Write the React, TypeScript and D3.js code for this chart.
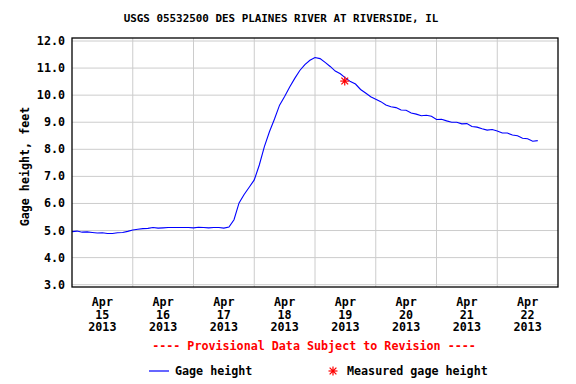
import React from "react";
import * as d3 from "d3";

const TITLE = "USGS 05532500 DES PLAINES RIVER AT RIVERSIDE, IL";
const Y_LABEL = "Gage height, feet";
const PROVISIONAL = "---- Provisional Data Subject to Revision ----";
const START = new Date(2013, 3, 15, 0, 0);
const END = new Date(2013, 3, 23, 0, 0);
const STEP_HOURS = 2;
// Gage height readings every 2 hours from Apr 15 2013 00:00
const gageHeight = [
  4.96, 4.97, 4.95, 4.94, 4.93, 4.92, 4.91, 4.89, 4.90, 4.91, 4.93, 4.97,
  5.02, 5.04, 5.07, 5.09, 5.10, 5.09, 5.11, 5.10, 5.11, 5.12, 5.10, 5.11,
  5.11, 5.12, 5.10, 5.11, 5.10, 5.11, 5.10, 5.13, 5.40, 6.02, 6.33, 6.60,
  6.87, 7.42, 8.10, 8.65, 9.12, 9.63, 9.95, 10.30, 10.62, 10.91, 11.12, 11.30,
  11.37, 11.34, 11.22, 11.05, 10.91, 10.78, 10.62, 10.52, 10.41, 10.22, 10.06, 9.95,
  9.84, 9.74, 9.66, 9.57, 9.52, 9.46, 9.41, 9.36, 9.29, 9.26, 9.24, 9.21,
  9.12, 9.09, 9.05, 9.03, 8.98, 8.95, 8.92, 8.86, 8.81, 8.76, 8.73, 8.71,
  8.67, 8.62, 8.58, 8.54, 8.49, 8.43, 8.37, 8.33, 8.31,
];
const jitter = [
  0, 0.01, -0.01, 0.01, 0, -0.01, 0.01, 0, -0.01, 0.01, 0, 0,
  0, 0.01, 0, -0.01, 0.01, 0, -0.01, 0.01, 0, -0.01, 0.01, 0,
  -0.01, 0, 0.01, -0.01, 0.01, 0, -0.01, 0, 0, 0, 0, 0,
  0, 0, 0, 0, 0, 0, 0, 0, 0, 0, 0.01, -0.01,
  0.02, 0.01, -0.01, 0.01, -0.02, 0.01, 0.02, -0.02, 0, -0.01, 0.02, -0.01,
  0.01, 0.02, -0.02, 0, 0.02, -0.01, 0.03, -0.02, 0.01, -0.02, 0.02, 0.01,
  -0.02, 0.02, 0, -0.03, 0.02, -0.01, 0.03, -0.02, 0.01, 0, -0.02, 0.02,
  0.01, -0.02, 0.02, -0.01, 0.01, -0.02, 0.02, -0.03, 0.01,
];
const measuredTime = [new Date(2013, 3, 19, 11, 45)];
const measuredValue = [10.52];
const yTicks = [3, 4, 5, 6, 7, 8, 9, 10, 11, 12];
const dayTicks = [15, 16, 17, 18, 19, 20, 21, 22];

const FONT = "'DejaVu Sans Mono', monospace";

export default function App() {
  const W = 576, H = 384;
  const fl = 72, fr = 558, ft = 38, fb = 287;
  const x = d3.scaleTime().domain([START, END]).range([fl, fr]);
  const y = d3.scaleLinear().domain([3, 12]).range([284.7, 41]);

  const pts = gageHeight.map((v, i) => ({
    t: d3.timeHour.offset(START, i * STEP_HOURS),
    v: v + (jitter[i] || 0),
  }));
  const line = d3
    .line<{ t: Date; v: number }>()
    .x((d) => x(d.t))
    .y((d) => y(d.v))
    .curve(d3.curveLinear);

  const dayLines = d3.timeDay.range(d3.timeDay.offset(START, 1), END);

  const star = (cx: number, cy: number, r: number, key: string) => (
    <g key={key} stroke="#ff0000" strokeWidth={1.2}>
      <line x1={cx - r} y1={cy} x2={cx + r} y2={cy} />
      <line x1={cx} y1={cy - r} x2={cx} y2={cy + r} />
      <line x1={cx - r * 0.75} y1={cy - r * 0.75} x2={cx + r * 0.75} y2={cy + r * 0.75} />
      <line x1={cx - r * 0.75} y1={cy + r * 0.75} x2={cx + r * 0.75} y2={cy - r * 0.75} />
      <circle cx={cx} cy={cy} r={1.5} fill="#ff0000" stroke="none" />
    </g>
  );

  return (
    <svg
      width={W}
      height={H}
      style={{ position: "absolute", left: 0, top: 0, background: "#fff" }}
      fontFamily={FONT}
      fontWeight="bold"
    >
      <rect x={0} y={0} width={W} height={H} fill="#fff" />
      <text x={281} y={22} textAnchor="middle" fontSize={10.9} fill="#000">
        {TITLE}
      </text>
      {yTicks.map((t) => (
        <line key={"gy" + t} x1={fl} x2={fr} y1={y(t)} y2={y(t)} stroke="#cccccc" strokeWidth={1} />
      ))}
      {dayLines.map((d, i) => (
        <line key={"gx" + i} x1={x(d)} x2={x(d)} y1={ft} y2={fb} stroke="#cccccc" strokeWidth={1} />
      ))}
      {yTicks.map((t) => (
        <text key={"yl" + t} x={65} y={y(t) + 4} textAnchor="end" fontSize={11.7} fill="#000">
          {d3.format(".1f")(t)}
        </text>
      ))}
      <text
        transform={`translate(29,${(ft + fb) / 2 + 4}) rotate(-90)`}
        textAnchor="middle"
        fontSize={11.7}
        fill="#000"
      >
        {Y_LABEL}
      </text>
      {dayTicks.map((d) => {
        const cx = x(new Date(2013, 3, d, 12));
        return (
          <text key={"xl" + d} textAnchor="middle" fontSize={11.7} fill="#000">
            <tspan x={cx} y={306}>Apr</tspan>
            <tspan x={cx} y={318.5}>{String(d)}</tspan>
            <tspan x={cx} y={331}>2013</tspan>
          </text>
        );
      })}
      <path d={line(pts) || ""} fill="none" stroke="#0000ff" strokeWidth={1.1} />
      {measuredTime.map((t, i) => star(x(t), y(measuredValue[i]), 4.5, "m" + i))}
      <rect x={fl} y={ft} width={fr - fl} height={fb - ft} fill="none" stroke="#000" strokeWidth={1.3} />
      <text x={314} y={350} textAnchor="middle" fontSize={11.7} fill="#ff0000">
        {PROVISIONAL}
      </text>
      <line x1={149} x2={169} y1={371} y2={371} stroke="#0000ff" strokeWidth={1.2} />
      <text x={175} y={375} fontSize={11.7} fill="#000">Gage height</text>
      {star(333, 371, 4.5, "legstar")}
      <text x={347} y={375} fontSize={11.7} fill="#000">Measured gage height</text>
    </svg>
  );
}
